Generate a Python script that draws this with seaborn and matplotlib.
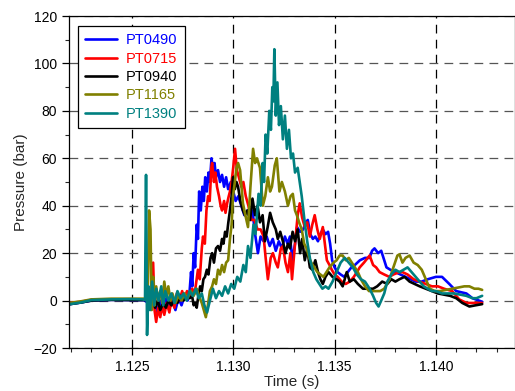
import matplotlib
matplotlib.use("Agg")
import matplotlib.pyplot as plt
from matplotlib.ticker import MultipleLocator, FormatStrFormatter
import pandas as pd
import seaborn as sns

# Pressure traces: (time in s, pressure in bar)
pt0490 = [(1.12195, -1.5), (1.12250, -0.8), (1.12300, 0.0), (1.12400, 0.3), (1.12500, 0.2),
          (1.12560, 0.2), (1.12580, -1), (1.12590, 3), (1.12600, -3), (1.12612, 2), (1.12625, -5),
          (1.12640, 0), (1.12655, -4), (1.12670, 1), (1.12685, -3), (1.12700, 0), (1.12715, -4),
          (1.12730, 1), (1.12745, -2), (1.12760, 2), (1.12775, 0), (1.12785, 4), (1.12792, 12),
          (1.12798, 6), (1.12805, 20), (1.12812, 14), (1.12820, 32), (1.12826, 26), (1.12832, 46),
          (1.12840, 38), (1.12848, 48), (1.12855, 42), (1.12862, 52), (1.12870, 46), (1.12878, 54),
          (1.12885, 50), (1.12893, 60), (1.12900, 56), (1.12908, 58), (1.12915, 52), (1.12925, 55),
          (1.12935, 50), (1.12945, 53), (1.12955, 48), (1.12965, 52), (1.12975, 47), (1.12988, 50),
          (1.13000, 46), (1.13012, 42), (1.13025, 44), (1.13040, 40), (1.13055, 36), (1.13070, 38),
          (1.13085, 34), (1.13095, 38), (1.13108, 28), (1.13122, 20), (1.13135, 27), (1.13150, 25),
          (1.13165, 27), (1.13180, 23), (1.13195, 26), (1.13210, 21), (1.13225, 25), (1.13240, 22),
          (1.13255, 27), (1.13268, 24), (1.13280, 27), (1.13292, 17), (1.13305, 24), (1.13315, 31),
          (1.13330, 29), (1.13345, 30), (1.13358, 33), (1.13368, 34), (1.13380, 28), (1.13393, 26),
          (1.13405, 27), (1.13418, 25), (1.13430, 28), (1.13442, 30), (1.13455, 28), (1.13468, 29),
          (1.13478, 24), (1.13488, 17), (1.13500, 14), (1.13515, 12), (1.13530, 11), (1.13548, 10),
          (1.13565, 12), (1.13583, 14), (1.13600, 15), (1.13625, 17), (1.13650, 18), (1.13672, 18),
          (1.13685, 21), (1.13697, 22), (1.13715, 20), (1.13730, 21), (1.13745, 17), (1.13756, 14),
          (1.13775, 13), (1.13800, 12), (1.13825, 11), (1.13850, 10), (1.13875, 9), (1.13900, 8),
          (1.13930, 8), (1.13960, 9), (1.14000, 10), (1.14030, 10), (1.14066, 7), (1.14100, 4),
          (1.14150, 3), (1.14180, 1), (1.14228, -0.5)]

pt0715 = [(1.12195, -1), (1.12250, -0.5), (1.12300, 0.3), (1.12400, 0.5), (1.12500, 0.5),
          (1.12575, 0.5), (1.12595, -2), (1.12605, 16), (1.12612, -4), (1.12620, -9), (1.12630, -3),
          (1.12640, -7), (1.12650, -2), (1.12660, -6), (1.12672, -1), (1.12685, -5), (1.12695, 0),
          (1.12710, -3), (1.12722, 3), (1.12735, 0), (1.12748, 4), (1.12760, 1), (1.12772, 4),
          (1.12785, 2), (1.12798, 5), (1.12810, 3), (1.12826, 13), (1.12835, 9), (1.12845, 22),
          (1.12851, 27), (1.12860, 24), (1.12868, 38), (1.12876, 44), (1.12884, 42), (1.12892, 56),
          (1.12896, 58), (1.12905, 50), (1.12912, 54), (1.12920, 48), (1.12930, 44), (1.12938, 40),
          (1.12945, 38), (1.12955, 42), (1.12962, 37), (1.12970, 41), (1.12978, 44), (1.12984, 46),
          (1.12992, 50), (1.13000, 56), (1.13009, 64), (1.13018, 55), (1.13028, 52), (1.13040, 48),
          (1.13050, 50), (1.13062, 44), (1.13075, 40), (1.13090, 34), (1.13105, 34), (1.13120, 30),
          (1.13135, 30), (1.13150, 27), (1.13160, 18), (1.13171, 9), (1.13185, 18), (1.13196, 20),
          (1.13210, 16), (1.13220, 14), (1.13235, 22), (1.13245, 23), (1.13258, 16), (1.13270, 12),
          (1.13282, 20), (1.13290, 9), (1.13304, 23), (1.13318, 36), (1.13328, 41), (1.13340, 35),
          (1.13353, 31), (1.13365, 33), (1.13378, 27), (1.13390, 32), (1.13402, 36), (1.13415, 30),
          (1.13427, 26), (1.13442, 31), (1.13452, 24), (1.13462, 17), (1.13475, 15), (1.13486, 13),
          (1.13500, 11), (1.13515, 10), (1.13535, 8), (1.13555, 7), (1.13575, 8), (1.13595, 10),
          (1.13610, 12), (1.13624, 14), (1.13645, 16), (1.13673, 19), (1.13690, 15), (1.13705, 14),
          (1.13722, 12), (1.13745, 11), (1.13770, 10), (1.13790, 11), (1.13820, 12), (1.13835, 12),
          (1.13860, 11), (1.13890, 9), (1.13919, 8), (1.13950, 7), (1.13980, 6), (1.14010, 6),
          (1.14040, 5), (1.14080, 4), (1.14115, 0.5), (1.14150, -1), (1.14190, -1), (1.14228, -1)]

pt0940 = [(1.12195, -1.5), (1.12250, -0.8), (1.12300, 0), (1.12400, 0.3), (1.12500, 0.2),
          (1.12580, 0.2), (1.12595, -2), (1.12605, 2), (1.12615, -3), (1.12628, 0), (1.12640, -4),
          (1.12655, -1), (1.12668, -3), (1.12680, 0), (1.12695, -2), (1.12710, 1), (1.12725, -1),
          (1.12740, 2), (1.12755, 0), (1.12770, 2), (1.12785, 1), (1.12797, 2), (1.12805, -2),
          (1.12812, -1), (1.12820, -3), (1.12828, 2), (1.12837, 6), (1.12845, 4), (1.12853, 9),
          (1.12861, 10), (1.12870, 13), (1.12878, 11), (1.12888, 18), (1.12896, 20), (1.12905, 16),
          (1.12915, 22), (1.12925, 23), (1.12935, 21), (1.12945, 26), (1.12952, 24), (1.12960, 29),
          (1.12968, 27), (1.12976, 33), (1.12984, 38), (1.12992, 44), (1.12999, 52), (1.13008, 47),
          (1.13016, 50), (1.13024, 48), (1.13035, 42), (1.13048, 38), (1.13058, 36), (1.13070, 38),
          (1.13083, 34), (1.13095, 43), (1.13108, 36), (1.13120, 40), (1.13132, 33), (1.13145, 36),
          (1.13156, 25), (1.13170, 31), (1.13182, 37), (1.13195, 33), (1.13210, 30), (1.13220, 26),
          (1.13232, 29), (1.13245, 25), (1.13258, 20), (1.13270, 24), (1.13280, 22), (1.13293, 29),
          (1.13305, 25), (1.13318, 30), (1.13330, 20), (1.13340, 26), (1.13353, 17), (1.13365, 22),
          (1.13378, 14), (1.13390, 13), (1.13405, 17), (1.13418, 12), (1.13430, 9), (1.13442, 7),
          (1.13455, 10), (1.13470, 12), (1.13490, 10), (1.13510, 9), (1.13525, 8), (1.13540, 6),
          (1.13560, 12), (1.13575, 8), (1.13595, 9), (1.13615, 7), (1.13640, 5), (1.13665, 5),
          (1.13690, 5), (1.13710, 6), (1.13735, 8), (1.13760, 7), (1.13780, 9), (1.13800, 8),
          (1.13820, 9), (1.13845, 10), (1.13870, 8), (1.13895, 7), (1.13920, 6), (1.13950, 5),
          (1.13980, 4), (1.14010, 3), (1.14040, 2.5), (1.14070, 2), (1.14100, 1), (1.14130, -1),
          (1.14165, -2.5), (1.14195, -2), (1.14228, -1.5)]

pt1165 = [(1.12195, -1.0), (1.12250, -0.3), (1.12300, 0.5), (1.12400, 0.8), (1.12500, 0.8),
          (1.12560, 0.8), (1.12578, 0.5), (1.12585, 38), (1.12592, 30), (1.12598, -4), (1.12605, 10),
          (1.12612, -2), (1.12620, 6), (1.12630, 0), (1.12640, 4), (1.12650, -1), (1.12660, 8),
          (1.12670, 2), (1.12680, 6), (1.12690, 0), (1.12700, 3), (1.12715, -1), (1.12730, 2),
          (1.12745, 0), (1.12760, 3), (1.12775, 1), (1.12790, 4), (1.12805, 2), (1.12820, 5),
          (1.12835, 1), (1.12845, -1), (1.12855, -4), (1.12865, -7), (1.12875, -2), (1.12885, 4),
          (1.12896, 6), (1.12905, 9), (1.12915, 7), (1.12925, 13), (1.12935, 11), (1.12945, 15),
          (1.12955, 12), (1.12965, 16), (1.12975, 17), (1.12984, 26), (1.12992, 32), (1.12999, 44),
          (1.13008, 50), (1.13016, 56), (1.13024, 58), (1.13034, 55), (1.13048, 41), (1.13060, 36),
          (1.13073, 31), (1.13085, 48), (1.13098, 64), (1.13108, 58), (1.13117, 60), (1.13132, 56),
          (1.13146, 40), (1.13158, 44), (1.13171, 52), (1.13182, 46), (1.13191, 48), (1.13205, 57),
          (1.13215, 60), (1.13228, 46), (1.13240, 50), (1.13255, 46), (1.13270, 40), (1.13283, 44),
          (1.13294, 45), (1.13305, 38), (1.13314, 36), (1.13325, 33), (1.13338, 30), (1.13350, 24),
          (1.13362, 22), (1.13375, 18), (1.13385, 16), (1.13400, 14), (1.13415, 12), (1.13430, 11),
          (1.13445, 10), (1.13460, 12), (1.13475, 14), (1.13495, 16), (1.13510, 17), (1.13525, 19),
          (1.13540, 19), (1.13555, 17), (1.13570, 18), (1.13585, 16), (1.13600, 14), (1.13615, 12),
          (1.13630, 9), (1.13650, 6), (1.13670, 4), (1.13700, 4), (1.13725, 4), (1.13745, 5),
          (1.13771, 9), (1.13790, 14), (1.13810, 19), (1.13820, 19.5), (1.13835, 16), (1.13850, 18),
          (1.13870, 19), (1.13890, 16), (1.13910, 15), (1.13930, 13), (1.13950, 9), (1.13970, 5),
          (1.13995, 4), (1.14020, 4), (1.14050, 4.5), (1.14080, 5), (1.14110, 5.5), (1.14140, 6),
          (1.14165, 6), (1.14190, 5), (1.14210, 5), (1.14228, 4.5)]

pt1390 = [(1.12195, -1.5), (1.12250, -0.8), (1.12300, 0.2), (1.12400, 0.5), (1.12500, 0.6),
          (1.12550, 0.5), (1.12565, 0.3), (1.12570, 53), (1.12575, -14.5), (1.12582, 6),
          (1.12590, -4), (1.12600, 8), (1.12610, -2), (1.12620, 5), (1.12632, 0), (1.12645, 6),
          (1.12655, -2), (1.12665, 4), (1.12680, 0), (1.12695, 3), (1.12710, -1), (1.12725, 4),
          (1.12740, 1), (1.12755, 3), (1.12770, 0), (1.12785, 4), (1.12800, 2), (1.12815, 5),
          (1.12830, 1), (1.12845, 3), (1.12858, -2), (1.12871, -5), (1.12885, 0), (1.12900, 5),
          (1.12915, 1), (1.12930, 4), (1.12945, 2), (1.12960, 6), (1.12975, 3), (1.12990, 7),
          (1.13005, 5), (1.13020, 10), (1.13035, 8), (1.13050, 15), (1.13062, 12), (1.13073, 23),
          (1.13085, 18), (1.13100, 32), (1.13110, 28), (1.13125, 45), (1.13135, 40), (1.13145, 58),
          (1.13152, 50), (1.13160, 70), (1.13168, 62), (1.13178, 80), (1.13186, 72), (1.13193, 90),
          (1.13198, 84), (1.13203, 106), (1.13210, 78), (1.13218, 92), (1.13226, 74), (1.13235, 82),
          (1.13245, 68), (1.13255, 78), (1.13265, 64), (1.13275, 72), (1.13285, 60), (1.13295, 62),
          (1.13305, 54), (1.13318, 56), (1.13328, 50), (1.13338, 44), (1.13350, 35), (1.13365, 25),
          (1.13380, 17), (1.13395, 12), (1.13410, 9), (1.13425, 7), (1.13440, 5), (1.13455, 6),
          (1.13470, 5), (1.13490, 8), (1.13510, 12), (1.13530, 16), (1.13550, 18), (1.13570, 16),
          (1.13590, 14), (1.13610, 11), (1.13630, 9), (1.13650, 8), (1.13673, 5), (1.13690, 2),
          (1.13705, -1), (1.13717, -2.5), (1.13730, 0), (1.13745, 3), (1.13760, 8), (1.13780, 11),
          (1.13800, 13), (1.13820, 12), (1.13840, 13), (1.13860, 14), (1.13880, 12), (1.13900, 10),
          (1.13920, 8), (1.13940, 6), (1.13960, 5), (1.13980, 4), (1.14000, 4), (1.14030, 3),
          (1.14060, 3), (1.14090, 3), (1.14120, 2.5), (1.14150, 2), (1.14180, 1), (1.14200, 1),
          (1.14228, 2)]

sensors = ["PT0490", "PT0715", "PT0940", "PT1165", "PT1390"]
traces = [pt0490, pt0715, pt0940, pt1165, pt1390]
colors = ["#0000FF", "#FF0000", "#000000", "#808000", "#008080"]

x_ticks = [1.125, 1.130, 1.135, 1.140]
y_ticks = [-20, 0, 20, 40, 60, 80, 100, 120]

rows = []
for name, trace in zip(sensors, traces):
    for i, (t, p) in enumerate(trace):
        rows.append({"Time (s)": t, "Pressure (bar)": p, "sensor": name, "idx": i})
df = pd.DataFrame(rows)

sns.set_style("ticks")
plt.rcParams["font.family"] = ["Liberation Sans", "DejaVu Sans"]

fig = plt.figure(figsize=(5.15, 3.91), dpi=100)
ax = fig.add_axes([69 / 515, 1 - 348 / 391, (515 - 69) / 515, (348 - 16) / 391])

sns.lineplot(data=df, x="Time (s)", y="Pressure (bar)", hue="sensor",
             hue_order=sensors, palette=dict(zip(sensors, colors)),
             sort=False, estimator=None, units="sensor", linewidth=1.9, ax=ax)

ax.set_xlim(1.1219, 1.1439)
ax.set_ylim(-20, 120)
ax.set_xticks(x_ticks)
ax.set_yticks(y_ticks)
ax.xaxis.set_major_formatter(FormatStrFormatter("%.3f"))
ax.xaxis.set_minor_locator(MultipleLocator(0.001))
ax.yaxis.set_minor_locator(MultipleLocator(10))
ax.tick_params(which="major", direction="out", length=5, width=0.9, labelsize=10, colors="black")
ax.tick_params(which="minor", direction="out", length=3, width=0.8)
ax.tick_params(top=False, right=False, which="both")

ax.xaxis.grid(True, which="major", color="black", linestyle=(0, (7, 5)), linewidth=0.9)
ax.yaxis.grid(True, which="major", color="#555555", linestyle=(0, (7, 5)), linewidth=0.9)
ax.set_axisbelow(True)

for side in ["left", "bottom", "top", "right"]:
    ax.spines[side].set_visible(True)
    ax.spines[side].set_color("black")
    ax.spines[side].set_linewidth(0.9)

ax.set_xlabel("Time (s)", fontsize=11, labelpad=1)
ax.set_ylabel("Pressure (bar)", fontsize=11, labelpad=4)

handles, labels = ax.get_legend_handles_labels()
leg = ax.legend(handles, labels, loc="upper left",
                bbox_to_anchor=(78 / 515, 1 - 26 / 391), bbox_transform=fig.transFigure,
                frameon=True, fancybox=False, edgecolor="black", framealpha=1,
                fontsize=10.5, handlelength=2.2, handletextpad=0.6, labelspacing=0.3,
                borderpad=0.5, borderaxespad=0)
leg.get_frame().set_linewidth(0.9)
for txt, col in zip(leg.get_texts(), colors):
    txt.set_color(col)
for line in leg.get_lines():
    line.set_linewidth(1.9)

fig.savefig("out.png", dpi=100)
